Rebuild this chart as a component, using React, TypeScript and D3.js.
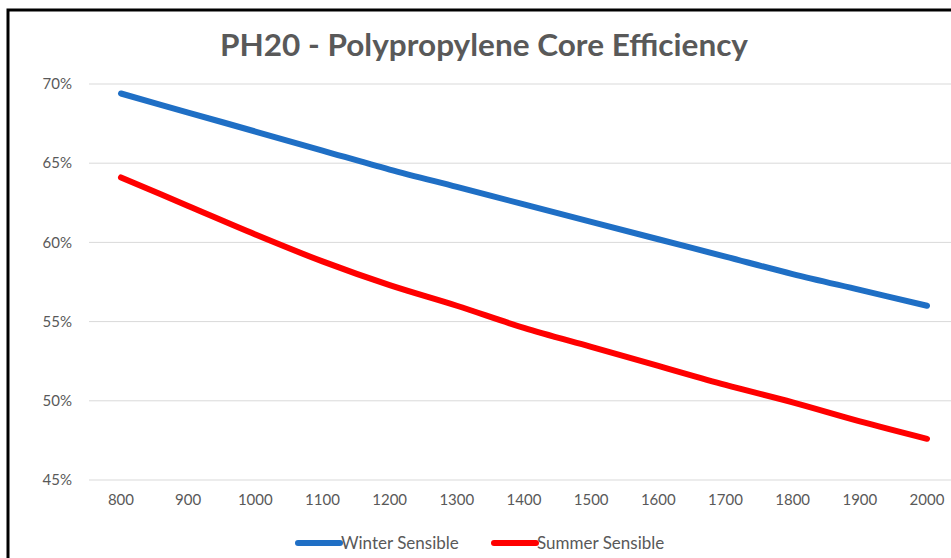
import React from "react";
import * as d3 from "d3";

const categories = [800, 900, 1000, 1100, 1200, 1300, 1400, 1500, 1600, 1700, 1800, 1900, 2000];
const winterSensible = [69.4, 68.2, 67.0, 65.8, 64.6, 63.5, 62.4, 61.3, 60.2, 59.1, 58.0, 57.0, 56.0];
const summerSensible = [64.1, 62.3, 60.5, 58.8, 57.3, 56.0, 54.6, 53.4, 52.2, 51.0, 49.9, 48.7, 47.6];
const yTicks = [45, 50, 55, 60, 65, 70];
const seriesNames = ["Winter Sensible", "Summer Sensible"];
const seriesColors = ["#1F6FC5", "#FF0000"];
const title = "PH20 - Polypropylene Core Efficiency";

const W = 951;
const H = 558;
const FONT = "Lato, 'Open Sans', sans-serif";

export default function App() {
  const plotLeft = 87.4;
  const plotRight = 960.6;
  const x = d3
    .scalePoint<number>()
    .domain(categories)
    .range([plotLeft, plotRight])
    .padding(0.5);
  const y = d3.scaleLinear().domain([45, 70]).range([480, 84]);

  const line = d3
    .line<number>()
    .x((_, i) => x(categories[i]) as number)
    .y((d) => y(d))
    .curve(d3.curveCatmullRom.alpha(0.5));

  const series = [winterSensible, summerSensible];

  return (
    <svg
      width={W}
      height={H}
      style={{ position: "absolute", left: 0, top: 0, background: "#fff" }}
    >
      <rect x={0} y={0} width={W} height={H} fill="#fff" />
      <rect x={8} y={10} width={W + 20} height={H + 20} fill="none" stroke="#000" strokeWidth={3} />

      <text
        x={484}
        y={56}
        textAnchor="middle"
        fontFamily={FONT}
        fontWeight="bold"
        fontSize={30}
        textLength={528}
        lengthAdjust="spacingAndGlyphs"
        fill="#595959"
      >
        {title}
      </text>

      {yTicks.map((t) => (
        <line
          key={t}
          x1={89}
          x2={plotRight}
          y1={y(t)}
          y2={y(t)}
          stroke="#D9D9D9"
          strokeWidth={1}
        />
      ))}

      {yTicks.map((t) => (
        <text
          key={"yl" + t}
          x={72}
          y={y(t)}
          dy="0.35em"
          textAnchor="end"
          fontFamily={FONT}
          fontSize={15}
          fill="#595959"
        >
          {t}%
        </text>
      ))}

      {categories.map((c) => (
        <text
          key={"xl" + c}
          x={x(c) as number}
          y={500}
          dy="0.35em"
          textAnchor="middle"
          fontFamily={FONT}
          fontSize={15}
          fill="#595959"
        >
          {c}
        </text>
      ))}

      {series.map((s, i) => (
        <path
          key={"s" + i}
          d={line(s) || ""}
          fill="none"
          stroke={seriesColors[i]}
          strokeWidth={6}
          strokeLinecap="round"
          strokeLinejoin="round"
        />
      ))}

      {seriesNames.map((n, i) => {
        const lx = i === 0 ? 298 : 494;
        return (
          <g key={"lg" + i}>
            <line
              x1={lx}
              x2={lx + 42}
              y1={543}
              y2={543}
              stroke={seriesColors[i]}
              strokeWidth={6}
              strokeLinecap="round"
            />
            <text
              x={lx + 43}
              y={543}
              dy="0.35em"
              fontFamily={FONT}
              fontSize={17}
              fill="#595959"
            >
              {n}
            </text>
          </g>
        );
      })}
    </svg>
  );
}
